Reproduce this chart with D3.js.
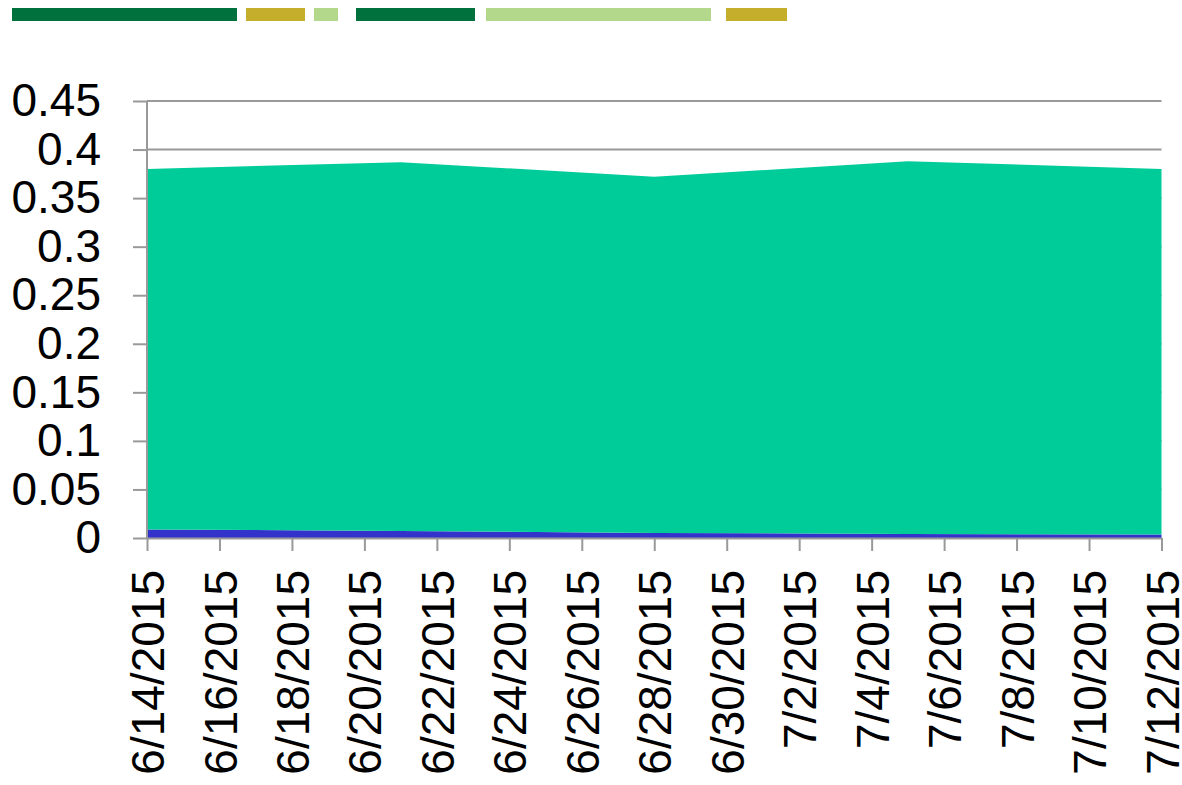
<!DOCTYPE html>
<html>
<head>
<meta charset="utf-8">
<script src="https://cdn.jsdelivr.net/npm/d3@7"></script>
<style>
  body { margin: 0; background: #fff; }
  text { font-family: "Liberation Sans", Arial, sans-serif; fill: #000; }
</style>
</head>
<body>
<div id="chart"></div>
<script>
// weekly readings
const dates = ["6/14/2015", "6/21/2015", "6/28/2015", "7/5/2015", "7/12/2015"];
const lowerSeries = [0.0088, 0.0072, 0.0052, 0.0042, 0.0036];
const upperSeries = [0.3712, 0.3798, 0.3668, 0.3838, 0.3764];

const yTicks = [0, 0.05, 0.1, 0.15, 0.2, 0.25, 0.3, 0.35, 0.4, 0.45];
const seriesColors = ["#3333cc", "#00cc99"];

// the strip of colour keys along the top (labels are empty in the source)
const legendColors = ["#00703c", "#c4ae2c", "#b3d88c", "#00703c", "#b3d88c", "#c4ae2c"];
const legendSpans = [[12, 237], [246, 305], [314, 338], [356, 475], [486, 711], [726, 787]];

const parseDate = d3.timeParse("%m/%d/%Y");
const fmtDate = (d) => (d.getMonth() + 1) + "/" + d.getDate() + "/" + d.getFullYear();

const width = 1182, height = 785;
const margin = { top: 101, right: 20, bottom: 247, left: 147 };

const svg = d3.select("#chart").append("svg")
  .attr("width", width)
  .attr("height", height);

// legend swatches
svg.append("g")
  .selectAll("rect")
  .data(legendColors)
  .join("rect")
  .attr("x", (d, i) => legendSpans[i][0])
  .attr("y", 8)
  .attr("width", (d, i) => legendSpans[i][1] - legendSpans[i][0])
  .attr("height", 13)
  .attr("fill", (d) => d);

const x = d3.scaleTime()
  .domain([parseDate(dates[0]), parseDate(dates[dates.length - 1])])
  .range([margin.left, width - margin.right - 0.5]);

const y = d3.scaleLinear()
  .domain([0, 0.45])
  .range([height - margin.bottom, margin.top]);

// gridlines
svg.append("g")
  .selectAll("line")
  .data(yTicks.slice(1))
  .join("line")
  .attr("x1", margin.left)
  .attr("x2", x.range()[1])
  .attr("y1", (d) => y(d))
  .attr("y2", (d) => y(d))
  .attr("stroke", "#999")
  .attr("stroke-width", 2);

// stacked areas
const rows = dates.map((d, i) => ({ date: parseDate(d), lower: lowerSeries[i], upper: upperSeries[i] }));
const stack = d3.stack().keys(["lower", "upper"]);
const layers = stack(rows);

const area = d3.area()
  .x((d) => x(d.data.date))
  .y0((d) => y(d[0]))
  .y1((d) => y(d[1]));

svg.append("g")
  .selectAll("path")
  .data(layers)
  .join("path")
  .attr("fill", (d, i) => seriesColors[i])
  .attr("d", area);

// y axis
svg.append("g")
  .attr("transform", `translate(${margin.left},0)`)
  .call(d3.axisLeft(y).tickValues(yTicks).tickFormat(d3.format("")).tickSize(14).tickPadding(32))
  .call((g) => g.select(".domain").attr("stroke", "#999").attr("stroke-width", 2).attr("d", `M0,${y(0)}V${y(0.45)}`))
  .call((g) => g.selectAll(".tick line").attr("stroke", "#999").attr("stroke-width", 2))
  .call((g) => g.selectAll(".tick text")
    .style("font-size", "46px")
    .style("font-family", "'Liberation Sans', Arial, sans-serif")
    .attr("fill", "#000"));

// x axis
const xTicks = d3.timeDay.range(x.domain()[0], d3.timeDay.offset(x.domain()[1], 1), 2);
svg.append("g")
  .attr("transform", `translate(0,${y(0)})`)
  .call(d3.axisBottom(x).tickValues(xTicks).tickFormat(fmtDate).tickSize(13).tickSizeOuter(0))
  .call((g) => g.select(".domain").attr("stroke", "#999").attr("stroke-width", 2))
  .call((g) => g.selectAll(".tick line").attr("stroke", "#999").attr("stroke-width", 2))
  .call((g) => g.selectAll(".tick text")
    .style("font-size", "46px")
    .style("font-family", "'Liberation Sans', Arial, sans-serif")
    .attr("fill", "#000")
    .attr("text-anchor", "end")
    .attr("transform", "rotate(-90)")
    .attr("x", -32)
    .attr("y", 0)
    .attr("dy", "0.36em"));
</script>
</body>
</html>
